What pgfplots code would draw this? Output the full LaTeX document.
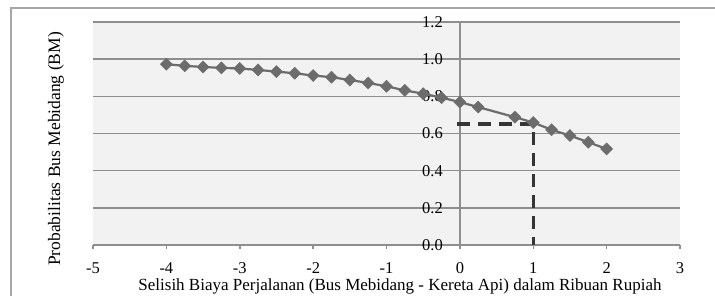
\documentclass[border=0pt]{standalone}
\usepackage{pgfplots}
\pgfplotsset{compat=1.18}
\usepackage{fontspec}
\setmainfont{Liberation Serif}
\definecolor{bg}{HTML}{F2F2F2}
\definecolor{gridc}{HTML}{8E8E8E}
\definecolor{ser}{HTML}{6C6C6C}
\definecolor{dashc}{HTML}{353535}
\definecolor{framec}{HTML}{A6A6A6}
\begin{document}
\begin{tikzpicture}[x=1pt,y=1pt]
\useasboundingbox (0,0) rectangle (715,295);
\draw[framec, line width=1.3pt] (11,-20) -- (11,287) -- (740,287);
\begin{axis}[
  at={(93pt,50pt)}, anchor=south west, scale only axis,
  width=587pt, height=223pt,
  xmin=-5, xmax=3, ymin=0, ymax=1.2,
  xtick={-5,-4,-3,-2,-1,0,1,2,3},
  ytick={0,0.2,0.4,0.6,0.8,1.0,1.2},
  axis background/.style={fill=bg},
  axis line style={draw=none},
  ymajorgrids, major grid style={gridc, line width=1.5pt},
  tick align=outside, major tick length=4pt,
  xtick pos=left, ytick pos=left,
  xtick style={gridc, line width=1.5pt},
  ytick style={draw=none},
  extra x ticks={0}, extra x tick labels={},
  extra x tick style={grid=major, major grid style={gridc, line width=1.5pt}},
  /pgf/number format/assume math mode=true,
  tick label style={font=\fontsize{16.5}{18}\selectfont},
  xticklabel style={inner sep=0pt, yshift=-13pt},
  yticklabel style={inner sep=0pt, xshift=354pt, /pgf/number format/fixed, /pgf/number format/fixed zerofill, /pgf/number format/precision=1},
  clip=false,
]
\addplot[dashc, line width=3.5pt, dash pattern=on 13pt off 8pt] coordinates {(-0.04,0.65) (1,0.65) (1,0.0)};
\addplot[ser, line width=2.2pt, mark=diamond*, mark size=6pt, mark options={xscale=1.33, fill=ser, draw=ser, line width=0.5pt}] coordinates {
(-4,0.973) (-3.75,0.964) (-3.5,0.958) (-3.25,0.953) (-3,0.950) (-2.75,0.942)
(-2.5,0.933) (-2.25,0.924) (-2,0.912) (-1.75,0.903) (-1.5,0.888) (-1.25,0.872)
(-1,0.854) (-0.75,0.832) (-0.5,0.814) (-0.25,0.793) (0,0.769) (0.25,0.742)
(0.75,0.688) (1,0.659) (1.25,0.620) (1.5,0.589) (1.75,0.553) (2,0.517)};
\end{axis}
\node[rotate=90, font=\fontsize{17.5}{20}\selectfont] at (56,146) {Probabilitas Bus Mebidang (BM)};
\node[anchor=base, font=\fontsize{17}{20}\selectfont] at (400,4.5) {Selisih Biaya Perjalanan (Bus Mebidang - Kereta Api) dalam Ribuan Rupiah};
\end{tikzpicture}
\end{document}
